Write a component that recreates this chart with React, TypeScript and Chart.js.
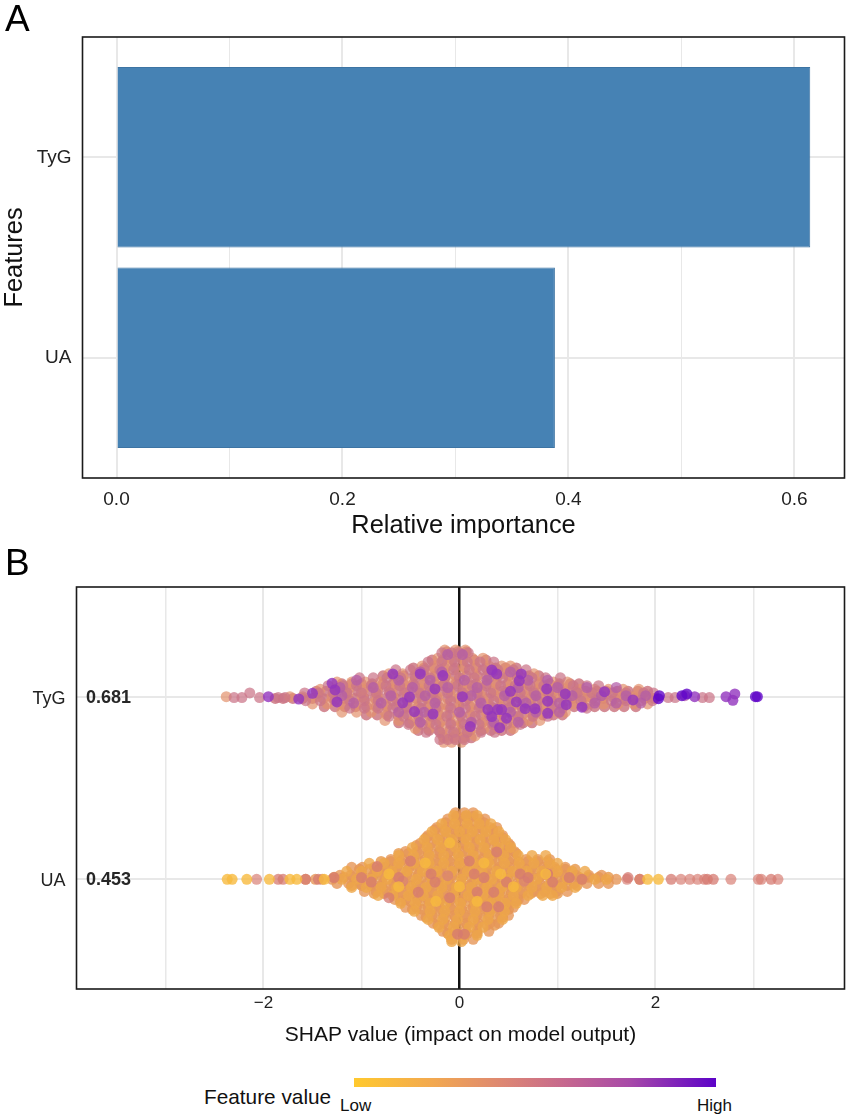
import React, { useEffect, useRef } from "react";
import { Chart, registerables } from "chart.js";
Chart.register(...registerables);

// ---------- Panel A ----------
const importanceFeatures = ["TyG", "UA"];
const importancePositions = [2, 1];
const importanceValues = [0.614, 0.388];
const importanceTicks = [0, 0.1, 0.2, 0.3, 0.4, 0.5, 0.6];
const importanceLabelled = [0, 0.2, 0.4, 0.6];

// ---------- Panel B ----------
const shapFeatures = ["TyG", "UA"];
const shapPositions = [2, 1];
const shapMeans = ["0.681", "0.453"];
const shapTicks = [-3, -2, -1, 0, 1, 2, 3];
const shapLabelled = [-2, 0, 2];

type Rows = [number, number[]][];

const tygFillRows: Rows = [
  [2.245, [-0.13, -0.02, 0.07]],
  [2.2, [-0.28, -0.17, -0.07, 0.04, 0.15, 0.27]],
  [2.157, [-0.47, -0.36, -0.26, -0.15, -0.05, 0.06, 0.17, 0.27, 0.37, 0.47, 0.58]],
  [2.114, [-0.78, -0.67, -0.57, -0.46, -0.36, -0.25, -0.14, -0.04, 0.07, 0.18, 0.28, 0.39, 0.5, 0.6, 0.71, 0.81]],
  [2.07, [-1.2, -1.1, -1.0, -0.89, -0.78, -0.68, -0.57, -0.47, -0.36, -0.25, -0.15, -0.04, 0.07, 0.17, 0.28, 0.38, 0.49, 0.6, 0.7, 0.81, 0.92, 1.02, 1.13, 1.22]],
  [2.03, [-1.46, -1.36, -1.25, -1.15, -1.04, -0.93, -0.83, -0.72, -0.62, -0.51, -0.4, -0.3, -0.19, -0.09, 0.02, 0.13, 0.23, 0.34, 0.44, 0.55, 0.66, 0.76, 0.87, 0.97, 1.08, 1.19, 1.29, 1.4, 1.5, 1.61, 1.72, 1.82, 1.92]],
  [1.99, [-1.88, -1.8, -1.7, -1.6, -1.5, -1.39, -1.29, -1.18, -1.07, -0.97, -0.86, -0.76, -0.65, -0.54, -0.44, -0.33, -0.23, -0.12, -0.01, 0.09, 0.2, 0.3, 0.41, 0.52, 0.62, 0.73, 0.83, 0.94, 1.05, 1.15, 1.26, 1.36, 1.47, 1.58, 1.68, 1.79, 1.89, 1.99]],
  [1.945, [-1.38, -1.27, -1.17, -1.06, -0.95, -0.85, -0.74, -0.64, -0.53, -0.42, -0.32, -0.21, -0.11, 0.0, 0.11, 0.21, 0.32, 0.42, 0.53, 0.64, 0.74, 0.85, 0.95, 1.06, 1.17, 1.27, 1.38, 1.48, 1.58, 1.68, 1.8]],
  [1.9, [-0.95, -0.84, -0.74, -0.63, -0.53, -0.42, -0.31, -0.21, -0.1, 0.01, 0.11, 0.22, 0.32, 0.43, 0.54, 0.64, 0.75, 0.85, 0.96, 1.05]],
  [1.857, [-0.62, -0.51, -0.41, -0.3, -0.2, -0.09, 0.02, 0.12, 0.23, 0.33, 0.44, 0.55, 0.65, 0.74]],
  [1.815, [-0.42, -0.31, -0.21, -0.1, 0.01, 0.11, 0.22, 0.32, 0.43, 0.52]],
  [1.775, [-0.16, -0.06, 0.04, 0.12]],
];

const tygWarmRows: Rows = [
  [2.255, [-0.15, -0.04, 0.06]],
  [2.21, [-0.22, -0.1, 0.02, 0.13, 0.24]],
  [2.168, [-0.38, -0.25, -0.12, 0.03, 0.16, 0.3, 0.43, 0.52]],
  [2.125, [-0.72, -0.58, -0.43, -0.29, -0.14, 0, 0.15, 0.31, 0.46, 0.6, 0.76]],
  [2.08, [-1.25, -1.1, -0.96, -0.81, -0.66, -0.52, -0.37, -0.22, -0.08, 0.08, 0.22, 0.37, 0.52, 0.66, 0.81, 0.96, 1.1]],
  [2.04, [-1.42, -1.27, -1.13, -0.98, -0.84, -0.69, -0.55, -0.4, -0.25, -0.1, 0.05, 0.2, 0.35, 0.5, 0.64, 0.79, 0.94, 1.08, 1.23, 1.38, 1.52, 1.67, 1.83]],
  [2.0, [-2.38, -1.73, -1.6, -1.45, -1.3, -1.14, -0.99, -0.84, -0.68, -0.53, -0.38, -0.22, -0.07, 0.08, 0.24, 0.39, 0.54, 0.7, 0.85, 1, 1.16, 1.31, 1.46, 1.62, 1.77, 1.93]],
  [1.96, [-1.5, -1.35, -1.2, -1.05, -0.9, -0.75, -0.6, -0.46, -0.31, -0.16, -0.01, 0.14, 0.29, 0.44, 0.58, 0.73, 0.88, 1.03, 1.17, 1.32, 1.47, 1.62, 1.78, 1.92]],
  [1.915, [-1.2, -1.05, -0.9, -0.76, -0.61, -0.46, -0.31, -0.17, -0.02, 0.13, 0.27, 0.42, 0.57, 0.72, 0.86, 1.0, 1.08]],
  [1.87, [-0.76, -0.62, -0.47, -0.33, -0.18, -0.03, 0.12, 0.27, 0.41, 0.56, 0.7, 0.82]],
  [1.825, [-0.45, -0.31, -0.17, -0.03, 0.11, 0.25, 0.39, 0.55]],
  [1.785, [-0.17, -0.05, 0.06, 0.16]],
  [1.75, [-0.16, -0.08, 0.02]],
];

const tygMauveRows: Rows = [
  [2.24, [-0.18, -0.08, 0.0, 0.09]],
  [2.19, [-0.32, -0.18, -0.05, 0.08, 0.21, 0.35]],
  [2.147, [-0.65, -0.5, -0.36, -0.2, -0.06, 0.1, 0.24, 0.39, 0.55, 0.68]],
  [2.103, [-1.02, -0.88, -0.74, -0.6, -0.45, -0.3, -0.15, 0, 0.15, 0.3, 0.44, 0.59, 0.74, 0.88, 1.03]],
  [2.06, [-1.34, -1.19, -1.05, -0.9, -0.75, -0.61, -0.46, -0.31, -0.17, -0.02, 0.13, 0.27, 0.42, 0.57, 0.72, 0.86, 1.01, 1.16, 1.3, 1.42]],
  [2.02, [-2.14, -1.58, -1.44, -1.29, -1.15, -1.0, -0.85, -0.71, -0.56, -0.41, -0.27, -0.12, 0.03, 0.18, 0.32, 0.47, 0.62, 0.76, 0.91, 1.06, 1.2, 1.35, 1.56, 1.7, 1.88, 1.98]],
  [1.995, [-2.3, -2.22, -2.04, -1.85, -1.78, 2.13, 2.2, 2.48, 2.55]],
  [1.978, [-1.57, -1.42, -1.27, -1.12, -0.97, -0.83, -0.68, -0.53, -0.38, -0.24, -0.09, 0.06, 0.21, 0.35, 0.5, 0.65, 0.8, 0.94, 1.09, 1.24, 1.39, 1.55, 1.7, 1.85, 1.97]],
  [1.937, [-1.12, -0.97, -0.83, -0.68, -0.54, -0.39, -0.24, -0.09, 0.06, 0.2, 0.35, 0.5, 0.64, 0.79, 0.94, 1.05, 1.3]],
  [1.892, [-0.72, -0.57, -0.42, -0.28, -0.13, 0.02, 0.16, 0.31, 0.46, 0.6, 0.75, 0.9]],
  [1.848, [-0.52, -0.38, -0.24, -0.09, 0.05, 0.2, 0.34, 0.48, 0.62]],
  [1.805, [-0.34, -0.2, -0.06, 0.08, 0.22, 0.36]],
  [1.765, [-0.2, -0.12, -0.04, 0.05]],
];

const tygOrchidRows: Rows = [
  [2.23, [-0.12, 0.03]],
  [2.135, [-0.4, -0.18, 0.34, 0.52]],
  [2.09, [-1.05, -0.62, -0.3, 0.05, 0.28, 0.7, 0.9]],
  [2.05, [-1.22, -0.88, -0.48, -0.12, 0.18, 0.6, 1.0, 1.3, 1.6]],
  [2.005, [-1.2, -0.7, -0.35, 0.12, 0.46, 0.78, 1.15, 1.45, 1.7, 1.9, 2.3]],
  [1.965, [-1.08, -0.8, -0.25, 0.22, 0.68, 1.02, 1.38, 1.6, 1.85]],
  [1.915, [-0.62, -0.36, 0.0, 0.52, 0.78, 1.02]],
  [1.86, [-0.4, 0.12, 0.35, 0.6]],
];

const tygPurpleRows: Rows = [
  [2.146, [0.33]],
  [2.124, [-0.68, -0.4, 0.38, 0.63]],
  [2.115, [-0.17]],
  [2.087, [0.61]],
  [2.073, [-1.3]],
  [2.042, [-0.25, 0.89]],
  [2.037, [-1.27]],
  [2.029, [0.52]],
  [2.027, [1.48]],
  [2.018, [-1.5]],
  [2.015, [1.08, 2.81]],
  [2.0, [0.03, -1.95, 2.4, 2.72]],
  [1.998, [-0.51]],
  [1.987, [-1.64]],
  [1.982, [1.77]],
  [1.98, [2.79]],
  [1.975, [0.9]],
  [1.971, [-1.25, 0.58]],
  [1.966, [-0.58]],
  [1.956, [1.09]],
  [1.942, [1.25]],
  [1.934, [0.67, 0.77]],
  [1.929, [0.29, 0.39, 0.43]],
  [1.918, [-0.46]],
  [1.909, [0.9]],
  [1.905, [-0.27]],
  [1.891, [0.33]],
  [1.882, [0.48]],
  [1.836, [0.11]],
  [1.83, [0.41]],
];

const tygDeepRows: Rows = [
  [2.015, [2.32]],
  [2.005, [2.04, 2.27]],
  [2.0, [3.02, 3.04]],
  [1.989, [2.03]],
];

const uaFillRows: Rows = [
  [1.345, [-0.03, 0.06, 0.14]],
  [1.31, [-0.14, -0.04, 0.06, 0.16, 0.25]],
  [1.272, [-0.25, -0.15, -0.05, 0.05, 0.15, 0.25, 0.34]],
  [1.229, [-0.34, -0.24, -0.14, -0.04, 0.06, 0.16, 0.26, 0.36, 0.44]],
  [1.185, [-0.44, -0.34, -0.24, -0.14, -0.04, 0.06, 0.16, 0.26, 0.36, 0.46, 0.52]],
  [1.142, [-0.62, -0.52, -0.42, -0.32, -0.22, -0.12, -0.02, 0.08, 0.18, 0.28, 0.38, 0.48, 0.58]],
  [1.098, [-0.8, -0.7, -0.6, -0.5, -0.4, -0.3, -0.2, -0.1, 0.0, 0.1, 0.2, 0.3, 0.4, 0.5, 0.6, 0.7, 0.8, 0.9]],
  [1.055, [-1.02, -0.92, -0.82, -0.72, -0.62, -0.52, -0.42, -0.32, -0.22, -0.12, -0.02, 0.08, 0.18, 0.28, 0.38, 0.48, 0.58, 0.68, 0.78, 0.88, 0.98, 1.08, 1.18]],
  [1.011, [-1.28, -1.18, -1.08, -0.98, -0.88, -0.78, -0.68, -0.58, -0.48, -0.38, -0.28, -0.18, -0.08, 0.02, 0.12, 0.22, 0.32, 0.42, 0.52, 0.62, 0.72, 0.82, 0.92, 1.02, 1.12, 1.22, 1.32, 1.42, 1.52]],
  [0.967, [-1.1, -1.0, -0.9, -0.8, -0.7, -0.6, -0.5, -0.4, -0.3, -0.2, -0.1, 0.0, 0.1, 0.2, 0.3, 0.4, 0.5, 0.6, 0.7, 0.8, 0.9, 1.0, 1.1, 1.2]],
  [0.923, [-0.87, -0.77, -0.67, -0.57, -0.47, -0.37, -0.27, -0.17, -0.07, 0.03, 0.13, 0.23, 0.33, 0.43, 0.53, 0.63, 0.73, 0.83, 0.93, 1.0]],
  [0.88, [-0.6, -0.5, -0.4, -0.3, -0.2, -0.1, 0.0, 0.1, 0.2, 0.3, 0.4, 0.5, 0.58]],
  [0.836, [-0.48, -0.38, -0.28, -0.18, -0.08, 0.02, 0.12, 0.22, 0.32, 0.42, 0.5]],
  [0.792, [-0.34, -0.24, -0.14, -0.04, 0.06, 0.16, 0.26, 0.36, 0.44]],
  [0.749, [-0.22, -0.12, -0.02, 0.08, 0.18, 0.28, 0.36]],
  [0.705, [-0.12, -0.02, 0.08, 0.18]],
];

const uaOrangeRows: Rows = [
  [1.365, [-0.04, 0.05, 0.14]],
  [1.33, [-0.12, -0.02, 0.09, 0.2, 0.26]],
  [1.284, [-0.23, -0.12, -0.02, 0.09, 0.2, 0.31, 0.38]],
  [1.24, [-0.32, -0.2, -0.09, 0.02, 0.13, 0.24, 0.35, 0.44]],
  [1.197, [-0.4, -0.29, -0.17, -0.07, 0.05, 0.16, 0.27, 0.38, 0.5]],
  [1.153, [-0.55, -0.43, -0.32, -0.2, -0.09, 0.03, 0.14, 0.26, 0.37, 0.48, 0.56]],
  [1.109, [-0.7, -0.58, -0.47, -0.35, -0.24, -0.12, -0.01, 0.1, 0.22, 0.33, 0.45, 0.56, 0.68, 0.8, 0.92]],
  [1.066, [-1.1, -0.99, -0.87, -0.76, -0.64, -0.52, -0.41, -0.29, -0.18, -0.06, 0.05, 0.17, 0.28, 0.4, 0.51, 0.63, 0.74, 0.86, 0.97, 1.08]],
  [1.022, [-1.22, -1.11, -1.0, -0.88, -0.77, -0.65, -0.54, -0.42, -0.31, -0.19, -0.08, 0.04, 0.15, 0.27, 0.38, 0.5, 0.61, 0.73, 0.84, 0.96, 1.07, 1.19, 1.32, 1.45]],
  [1.0, [-1.57, -1.47, -1.4, -1.3, 1.6, 1.84]],
  [0.978, [-1.25, -1.13, -1.02, -0.9, -0.79, -0.67, -0.56, -0.44, -0.33, -0.21, -0.1, 0.02, 0.13, 0.25, 0.36, 0.48, 0.59, 0.71, 0.82, 0.94, 1.05, 1.17, 1.3, 1.42, 1.52]],
  [0.934, [-0.97, -0.85, -0.74, -0.62, -0.51, -0.39, -0.28, -0.16, -0.05, 0.07, 0.18, 0.3, 0.41, 0.53, 0.64, 0.76, 0.87, 0.99, 1.1]],
  [0.89, [-0.66, -0.55, -0.43, -0.32, -0.2, -0.09, 0.03, 0.14, 0.26, 0.37, 0.49, 0.6, 0.66]],
  [0.847, [-0.55, -0.44, -0.32, -0.21, -0.09, 0.02, 0.14, 0.25, 0.37, 0.48, 0.55]],
  [0.803, [-0.39, -0.28, -0.16, -0.05, 0.07, 0.18, 0.3, 0.42, 0.5]],
  [0.76, [-0.27, -0.16, -0.04, 0.07, 0.19, 0.31, 0.4]],
  [0.716, [-0.17, -0.05, 0.06, 0.18, 0.3]],
  [0.672, [-0.08, 0.04, 0.14]],
];

const uaAmberRows: Rows = [
  [1.35, [-0.06, 0.07, 0.18]],
  [1.305, [-0.18, -0.05, 0.08, 0.2, 0.32]],
  [1.262, [-0.28, -0.14, 0.0, 0.13, 0.27, 0.4]],
  [1.218, [-0.36, -0.22, -0.08, 0.07, 0.21, 0.35, 0.47]],
  [1.175, [-0.48, -0.33, -0.19, -0.04, 0.1, 0.25, 0.4, 0.52]],
  [1.131, [-0.62, -0.47, -0.31, -0.16, -0.01, 0.14, 0.3, 0.45, 0.6, 0.74, 0.88]],
  [1.088, [-0.92, -0.77, -0.62, -0.46, -0.31, -0.16, 0.0, 0.15, 0.3, 0.46, 0.61, 0.76, 0.92, 1.0]],
  [1.044, [-1.15, -1.0, -0.84, -0.69, -0.54, -0.38, -0.23, -0.08, 0.08, 0.23, 0.38, 0.54, 0.69, 0.84, 1.0, 1.15, 1.28]],
  [1.0, [-1.2, -1.05, -0.9, -0.74, -0.59, -0.44, -0.28, -0.13, 0.02, 0.18, 0.33, 0.48, 0.64, 0.79, 0.94, 1.1, 1.25, 1.38, 1.5]],
  [0.956, [-1.1, -0.95, -0.8, -0.64, -0.49, -0.34, -0.18, -0.03, 0.12, 0.28, 0.43, 0.58, 0.74, 0.89, 1.04, 1.18]],
  [0.912, [-0.83, -0.68, -0.52, -0.37, -0.22, -0.06, 0.09, 0.24, 0.4, 0.55, 0.7, 0.85, 0.95]],
  [0.869, [-0.6, -0.45, -0.3, -0.14, 0.01, 0.16, 0.32, 0.47, 0.58]],
  [0.825, [-0.46, -0.3, -0.15, 0.0, 0.16, 0.31, 0.46]],
  [0.781, [-0.32, -0.17, -0.02, 0.14, 0.29, 0.44]],
  [0.738, [-0.21, -0.06, 0.1, 0.24]],
  [0.694, [-0.1, 0.05, 0.18]],
  [0.66, [-0.08, 0.02]],
];

const uaRoseRows: Rows = [
  [1.15, [0.38]],
  [1.1, [-0.5, 0.1]],
  [1.07, [-0.84]],
  [1.03, [-0.29, 0.15, 0.62, 0.9]],
  [1.01, [-1.28, -1.0, -0.62, 0.25, 0.7, 1.12, 1.72]],
  [1.0, [-1.85, -1.8, -1.57, -1.44, 1.25, 1.84, 2.16, 2.53, 2.59, 3.18]],
  [0.985, [-0.9, -0.25, 0.48, 0.95]],
  [0.93, [-0.42, 0.18, 0.35]],
  [0.9, [-0.72, -0.1]],
  [0.85, [0.28, 0.4]],
  [0.7, [-0.02, 0.05]],
];

const uaPaleRoseRows: Rows = [
  [1.0, [-2.07, 1.71, 2.26, 2.35, 2.43, 2.5, 2.77, 3.05, 3.08, 3.25]],
  [0.99, [-0.58, 0.66]],
  [1.02, [-0.12]],
];

const uaYellowRows: Rows = [
  [1.0, [-2.37, -2.32, -2.17, -1.94, -1.73, -1.66, -1.38, 1.92, 2.03]],
  [1.03, [-0.72, 0.42, 0.88]],
  [0.96, [-0.62, 0.0, 0.55]],
  [1.09, [-0.35, 0.25]],
  [0.88, [-0.24, 0.18]],
  [1.2, [-0.1]],
];

const toPoints = (rows: Rows) =>
  rows.flatMap(([y, xs]) => xs.map((x) => ({ x, y })));

const FONT = "'Liberation Sans', Arial, sans-serif";
const GRID = "#e8e8e8";

const frame = {
  id: "frame",
  afterDatasetsDraw(chart: any) {
    const { ctx, chartArea: a } = chart;
    ctx.save();
    ctx.strokeStyle = "#1a1a1a";
    ctx.lineWidth = 1.6;
    ctx.strokeRect(a.left, a.top, a.right - a.left, a.bottom - a.top);
    ctx.restore();
  },
};

const meanLabels = {
  id: "meanLabels",
  afterDatasetsDraw(chart: any) {
    const { ctx, chartArea: a, scales } = chart;
    ctx.save();
    ctx.font = `bold 18px ${FONT}`;
    ctx.fillStyle = "#262626";
    ctx.textAlign = "left";
    ctx.textBaseline = "middle";
    shapMeans.forEach((t, i) => {
      ctx.fillText(t, a.left + 9.5, scales.y.getPixelForValue(shapPositions[i]) + 1);
    });
    ctx.restore();
  },
};

const setTicks = (values: number[]) => (scale: any) => {
  scale.ticks = values.map((value) => ({ value }));
};
const fixed = (prop: "width" | "height", size: number) => (scale: any) => {
  scale[prop] = size;
};

function PanelA() {
  const ref = useRef<HTMLCanvasElement>(null);
  useEffect(() => {
    const chart = new Chart(ref.current!, {
      type: "bar",
      data: {
        datasets: [
          {
            data: importanceValues.map((x, i) => ({ x, y: importancePositions[i] })),
            backgroundColor: "#4682b4",
            borderColor: "#3d74a3",
            borderWidth: 1,
            barPercentage: 0.9,
            categoryPercentage: 1,
          },
        ],
      },
      options: {
        indexAxis: "y",
        animation: false,
        responsive: false,
        devicePixelRatio: 1,
        layout: { padding: { top: 37, right: 5.5 } },
        plugins: { legend: { display: false }, tooltip: { enabled: false } },
        scales: {
          x: {
            type: "linear",
            min: -0.0301,
            max: 0.6443,
            afterBuildTicks: setTicks(importanceTicks),
            afterFit: fixed("height", 63),
            grid: {
              drawTicks: false,
              color: GRID,
              lineWidth: (c: any) => (importanceLabelled.includes(c.tick?.value) ? 2 : 1),
            },
            border: { display: false },
            ticks: {
              autoSkip: false,
              maxRotation: 0,
              padding: 10,
              color: "#222",
              font: { family: FONT, size: 19 },
              callback: (v: any) => (importanceLabelled.includes(v) ? Number(v).toFixed(1) : ""),
            },
            title: {
              display: true,
              text: "Relative importance",
              color: "#111",
              font: { family: FONT, size: 25.4 },
              padding: 0,
            },
          },
          y: {
            type: "linear",
            offset: false,
            min: 0.4,
            max: 2.6,
            afterBuildTicks: setTicks(importancePositions),
            afterFit: fixed("width", 82.5),
            grid: { offset: false, drawTicks: false, color: GRID, lineWidth: 2 },
            border: { display: false },
            ticks: {
              autoSkip: false,
              padding: 11,
              color: "#222",
              font: { family: FONT, size: 19 },
              callback: (v: any) => importanceFeatures[importancePositions.indexOf(v)] ?? "",
            },
            title: {
              display: true,
              text: "Features",
              color: "#111",
              font: { family: FONT, size: 25.4 },
              padding: 0,
            },
          },
        },
      },
      plugins: [frame],
    } as any);
    return () => chart.destroy();
  }, []);
  return (
    <canvas
      ref={ref}
      width={850}
      height={541}
      style={{ position: "absolute", left: 0, top: 0, width: 850, height: 541 }}
    />
  );
}

function PanelB() {
  const ref = useRef<HTMLCanvasElement>(null);
  useEffect(() => {
    const dot = (rows: Rows, color: string) => ({
      data: toPoints(rows),
      backgroundColor: color,
      pointRadius: 5.5,
      borderWidth: 0,
    });
    const chart = new Chart(ref.current!, {
      type: "scatter",
      data: {
        datasets: [
          dot(tygDeepRows, "rgba(98,8,200,0.8)"),
          dot(tygPurpleRows, "rgba(146,52,190,0.8)"),
          dot(tygOrchidRows, "rgba(178,92,168,0.72)"),
          dot(tygMauveRows, "rgba(202,116,136,0.72)"),
          dot(tygWarmRows, "rgba(226,146,108,0.7)"),
          dot(tygFillRows, "rgba(205,120,130,0.85)"),
          dot(uaYellowRows, "rgba(247,186,62,0.8)"),
          dot(uaRoseRows, "rgba(214,122,112,0.75)"),
          dot(uaPaleRoseRows, "rgba(216,128,118,0.7)"),
          dot(uaAmberRows, "rgba(238,166,72,0.8)"),
          dot(uaOrangeRows, "rgba(230,150,88,0.8)"),
          dot(uaFillRows, "rgba(232,156,84,0.85)"),
        ],
      },
      options: {
        animation: false,
        responsive: false,
        devicePixelRatio: 1,
        layout: { padding: { top: 27, right: 5.5 } },
        plugins: { legend: { display: false }, tooltip: { enabled: false } },
        scales: {
          x: {
            type: "linear",
            min: -3.908,
            max: 3.929,
            afterBuildTicks: setTicks(shapTicks),
            afterFit: fixed("height", 59),
            grid: {
              drawTicks: false,
              color: (c: any) => (c.tick?.value === 0 ? "#111" : GRID),
              lineWidth: (c: any) =>
                c.tick?.value === 0 ? 2.5 : shapLabelled.includes(c.tick?.value) ? 2 : 1.5,
            },
            border: { display: false },
            ticks: {
              autoSkip: false,
              maxRotation: 0,
              padding: 4,
              color: "#222",
              font: { family: FONT, size: 17 },
              callback: (v: any) =>
                shapLabelled.includes(v) ? String(v).replace("-", "\u2212") : "",
            },
            title: {
              display: true,
              text: "SHAP value (impact on model output)",
              color: "#111",
              font: { family: FONT, size: 21 },
              padding: 0,
            },
          },
          y: {
            type: "linear",
            min: 0.4,
            max: 2.6,
            afterBuildTicks: setTicks(shapPositions),
            afterFit: fixed("width", 76.5),
            grid: { drawTicks: false, color: GRID, lineWidth: 2 },
            border: { display: false },
            ticks: {
              autoSkip: false,
              padding: 11,
              labelOffset: 2,
              color: "#222",
              font: { family: FONT, size: 18 },
              callback: (v: any) => shapFeatures[shapPositions.indexOf(v)] ?? "",
            },
          },
        },
      },
      plugins: [frame, meanLabels],
    } as any);
    return () => chart.destroy();
  }, []);
  return (
    <canvas
      ref={ref}
      width={850}
      height={488}
      style={{ position: "absolute", left: 0, top: 560, width: 850, height: 488 }}
    />
  );
}

const text = (left: number, top: number, size: number, color = "#111"): React.CSSProperties => ({
  position: "absolute",
  left,
  top,
  fontFamily: FONT,
  fontSize: size,
  lineHeight: 1,
  color,
  whiteSpace: "nowrap",
});

export default function App() {
  return (
    <div
      style={{
        position: "absolute",
        left: 0,
        top: 0,
        width: 850,
        height: 1118,
        overflow: "hidden",
        background: "#fff",
      }}
    >
      <PanelA />
      <PanelB />
      <div style={text(5, 0, 37, "#000")}>A</div>
      <div style={text(5, 544, 37, "#000")}>B</div>
      <div style={text(204, 1087, 20.8)}>Feature value</div>
      <div
        style={{
          position: "absolute",
          left: 354,
          top: 1078,
          width: 362,
          height: 9,
          background:
            "linear-gradient(90deg,#ffc92e 0%,#f2a850 22%,#dc8574 42%,#c6688e 58%,#a84aa8 76%,#5c02c8 100%)",
        }}
      />
      <div style={text(340, 1097, 17)}>Low</div>
      <div style={text(697, 1097, 17)}>High</div>
    </div>
  );
}
